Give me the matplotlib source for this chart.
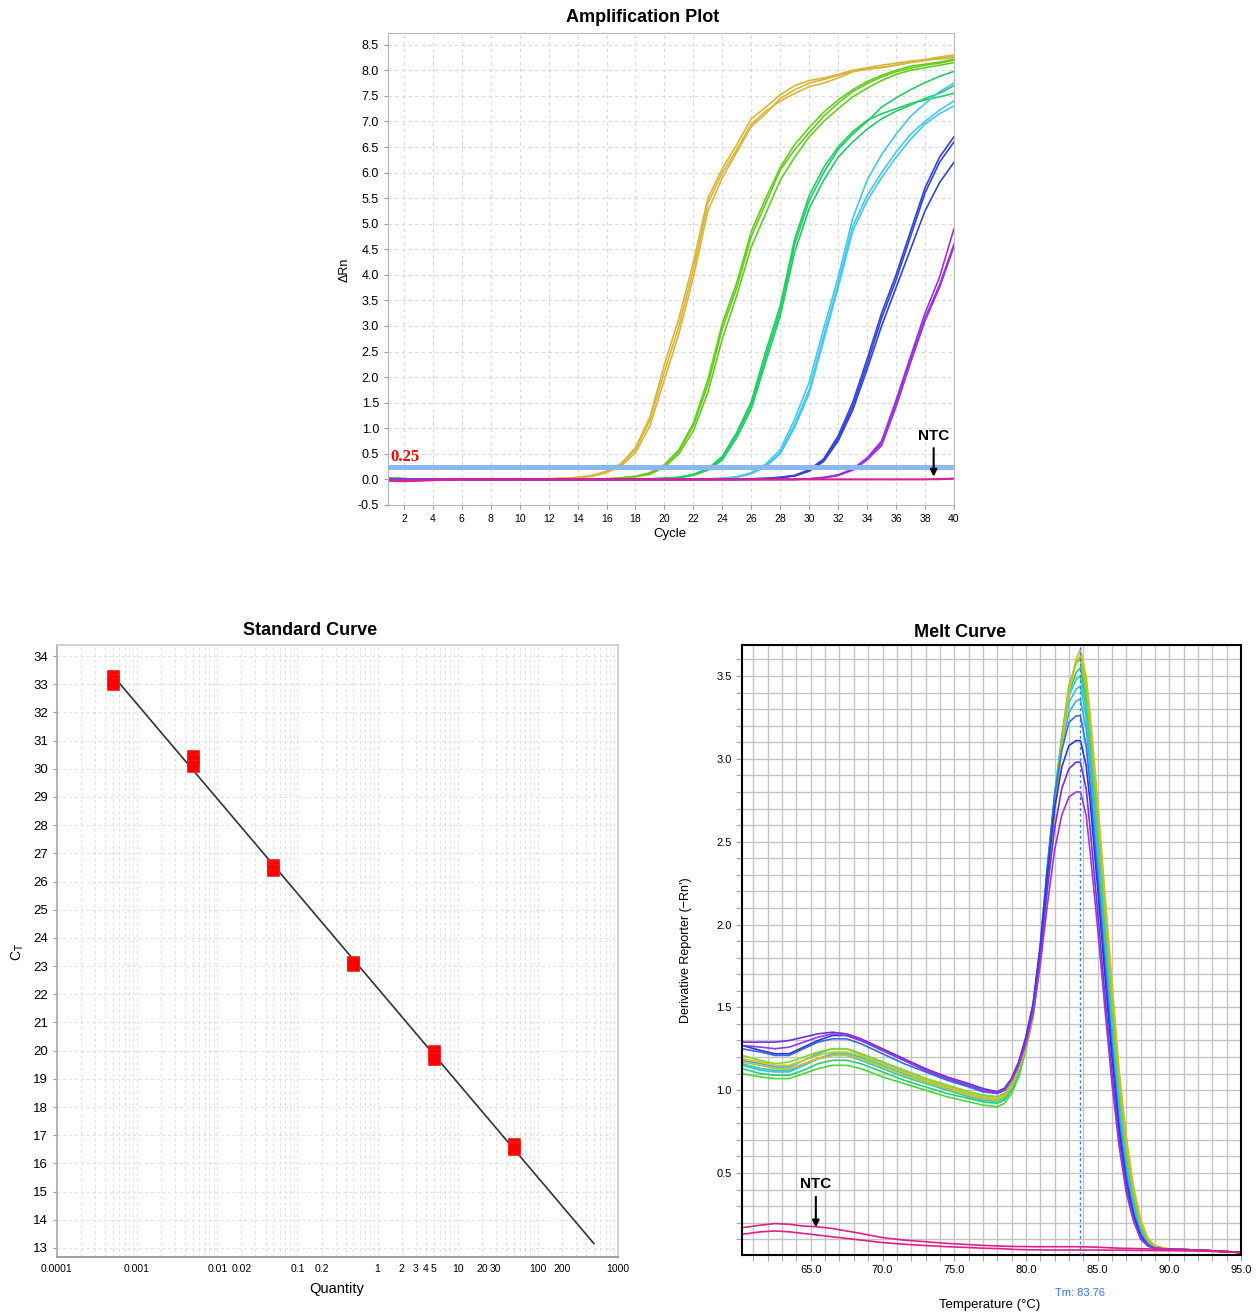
import numpy as np
import matplotlib.pyplot as plt
import matplotlib.transforms as mtransforms
from matplotlib.ticker import FixedLocator, FixedFormatter, MultipleLocator, LogLocator, NullFormatter

plt.rcParams['font.family'] = ['Liberation Sans', 'DejaVu Sans']

# ---------------- Amplification plot data (delta Rn per cycle) ----------------
cycles = list(range(1, 41))

amp_gold = [
    [0.02, 0.01, 0.00, 0.00, 0.00, 0.00, 0.00, 0.00, 0.00, 0.00,
     0.00, 0.01, 0.02, 0.04, 0.07, 0.15, 0.29, 0.58, 1.16, 2.10,
     3.00, 4.10, 5.40, 6.00, 6.45, 6.95, 7.20, 7.40, 7.55, 7.68,
     7.75, 7.85, 7.97, 8.03, 8.06, 8.10, 8.15, 8.19, 8.24, 8.28],
    [0.01, 0.01, 0.00, 0.00, 0.00, 0.00, 0.00, 0.00, 0.00, 0.00,
     0.00, 0.01, 0.02, 0.03, 0.06, 0.13, 0.26, 0.52, 1.05, 1.95,
     2.85, 3.95, 5.25, 5.90, 6.40, 6.90, 7.15, 7.45, 7.62, 7.75,
     7.82, 7.90, 7.98, 8.02, 8.05, 8.10, 8.16, 8.20, 8.22, 8.25],
    [0.02, 0.01, 0.01, 0.00, 0.00, 0.00, 0.00, 0.00, 0.00, 0.00,
     0.00, 0.01, 0.02, 0.04, 0.08, 0.16, 0.31, 0.62, 1.22, 2.25,
     3.15, 4.25, 5.50, 6.08, 6.55, 7.05, 7.28, 7.52, 7.70, 7.80,
     7.85, 7.92, 8.00, 8.05, 8.10, 8.14, 8.18, 8.21, 8.26, 8.30],
]
amp_ygreen = [
    [0.03, 0.01, 0.00, 0.00, 0.00, 0.00, 0.00, 0.00, 0.00, 0.00,
     0.00, 0.00, 0.00, 0.00, 0.00, 0.01, 0.03, 0.06, 0.12, 0.27,
     0.55, 1.05, 1.85, 2.95, 3.75, 4.75, 5.40, 6.05, 6.45, 6.78,
     7.10, 7.36, 7.58, 7.74, 7.87, 7.97, 8.04, 8.10, 8.14, 8.20],
    [0.02, 0.01, 0.00, 0.00, 0.00, 0.00, 0.00, 0.00, 0.00, 0.00,
     0.00, 0.00, 0.00, 0.00, 0.00, 0.01, 0.02, 0.05, 0.10, 0.24,
     0.50, 0.95, 1.70, 2.75, 3.60, 4.55, 5.20, 5.85, 6.30, 6.70,
     7.00, 7.25, 7.48, 7.65, 7.80, 7.92, 8.00, 8.05, 8.10, 8.15],
    [0.03, 0.02, 0.00, 0.00, 0.00, 0.00, 0.00, 0.00, 0.00, 0.00,
     0.00, 0.00, 0.00, 0.00, 0.00, 0.01, 0.03, 0.06, 0.13, 0.29,
     0.58, 1.10, 1.95, 3.05, 3.85, 4.85, 5.50, 6.10, 6.55, 6.88,
     7.18, 7.42, 7.62, 7.78, 7.90, 8.00, 8.08, 8.12, 8.16, 8.22],
]
amp_green = [
    [0.02, 0.01, 0.00, 0.00, 0.00, 0.00, 0.00, 0.00, 0.00, 0.00,
     0.00, 0.00, 0.00, 0.00, 0.00, 0.00, 0.00, 0.00, 0.01, 0.02,
     0.04, 0.09, 0.20, 0.42, 0.88, 1.45, 2.40, 3.30, 4.60, 5.45,
     6.00, 6.45, 6.75, 7.00, 7.28, 7.46, 7.62, 7.76, 7.88, 7.98],
    [0.03, 0.01, 0.00, 0.00, 0.00, 0.00, 0.00, 0.00, 0.00, 0.00,
     0.00, 0.00, 0.00, 0.00, 0.00, 0.00, 0.00, 0.00, 0.01, 0.02,
     0.03, 0.08, 0.18, 0.38, 0.82, 1.38, 2.30, 3.20, 4.45, 5.30,
     5.85, 6.30, 6.60, 6.85, 7.05, 7.20, 7.32, 7.45, 7.55, 7.70],
    [0.02, 0.00, 0.00, 0.00, 0.00, 0.00, 0.00, 0.00, 0.00, 0.00,
     0.00, 0.00, 0.00, 0.00, 0.00, 0.00, 0.00, 0.00, 0.01, 0.02,
     0.04, 0.10, 0.21, 0.45, 0.92, 1.52, 2.50, 3.40, 4.70, 5.55,
     6.10, 6.50, 6.80, 7.02, 7.15, 7.25, 7.35, 7.42, 7.48, 7.55],
]
amp_cyan = [
    [0.01, 0.00, 0.00, 0.00, 0.00, 0.00, 0.00, 0.00, 0.00, 0.00,
     0.00, 0.00, 0.00, 0.00, 0.00, 0.00, 0.00, 0.00, 0.00, 0.00,
     0.00, 0.00, 0.01, 0.02, 0.05, 0.13, 0.30, 0.58, 1.18, 1.90,
     2.95, 3.95, 5.10, 5.85, 6.35, 6.75, 7.10, 7.35, 7.58, 7.75],
    [0.01, 0.00, 0.00, 0.00, 0.00, 0.00, 0.00, 0.00, 0.00, 0.00,
     0.00, 0.00, 0.00, 0.00, 0.00, 0.00, 0.00, 0.00, 0.00, 0.00,
     0.00, 0.00, 0.01, 0.02, 0.05, 0.12, 0.27, 0.52, 1.08, 1.75,
     2.80, 3.82, 4.95, 5.55, 6.00, 6.40, 6.75, 7.00, 7.22, 7.40],
    [0.00, 0.00, 0.00, 0.00, 0.00, 0.00, 0.00, 0.00, 0.00, 0.00,
     0.00, 0.00, 0.00, 0.00, 0.00, 0.00, 0.00, 0.00, 0.00, 0.00,
     0.00, 0.00, 0.00, 0.01, 0.04, 0.11, 0.25, 0.50, 1.02, 1.68,
     2.72, 3.75, 4.85, 5.45, 5.90, 6.30, 6.65, 6.95, 7.15, 7.30],
]
amp_blue = [
    [0.00, 0.00, 0.00, 0.00, 0.00, 0.00, 0.00, 0.00, 0.00, 0.00,
     0.00, 0.00, 0.00, 0.00, 0.00, 0.00, 0.00, 0.00, 0.00, 0.00,
     0.00, 0.00, 0.00, 0.00, 0.00, 0.01, 0.02, 0.04, 0.08, 0.19,
     0.40, 0.85, 1.50, 2.35, 3.25, 4.00, 4.85, 5.70, 6.30, 6.70],
    [0.00, 0.00, 0.00, 0.00, 0.00, 0.00, 0.00, 0.00, 0.00, 0.00,
     0.00, 0.00, 0.00, 0.00, 0.00, 0.00, 0.00, 0.00, 0.00, 0.00,
     0.00, 0.00, 0.00, 0.00, 0.00, 0.01, 0.02, 0.04, 0.07, 0.17,
     0.37, 0.80, 1.42, 2.25, 3.15, 3.90, 4.75, 5.60, 6.20, 6.60],
    [0.00, 0.00, 0.00, 0.00, 0.00, 0.00, 0.00, 0.00, 0.00, 0.00,
     0.00, 0.00, 0.00, 0.00, 0.00, 0.00, 0.00, 0.00, 0.00, 0.00,
     0.00, 0.00, 0.00, 0.00, 0.00, 0.00, 0.01, 0.03, 0.07, 0.16,
     0.35, 0.75, 1.35, 2.15, 3.00, 3.75, 4.50, 5.25, 5.80, 6.20],
]
amp_purple = [
    [0.00, 0.00, 0.00, 0.00, 0.00, 0.00, 0.00, 0.00, 0.00, 0.00,
     0.00, 0.00, 0.00, 0.00, 0.00, 0.00, 0.00, 0.00, 0.00, 0.00,
     0.00, 0.00, 0.00, 0.00, 0.00, 0.00, 0.00, 0.00, 0.00, 0.01,
     0.04, 0.09, 0.20, 0.42, 0.75, 1.55, 2.40, 3.25, 3.95, 4.90],
    [0.00, 0.00, 0.00, 0.00, 0.00, 0.00, 0.00, 0.00, 0.00, 0.00,
     0.00, 0.00, 0.00, 0.00, 0.00, 0.00, 0.00, 0.00, 0.00, 0.00,
     0.00, 0.00, 0.00, 0.00, 0.00, 0.00, 0.00, 0.00, 0.00, 0.01,
     0.03, 0.08, 0.19, 0.40, 0.70, 1.50, 2.35, 3.15, 3.80, 4.60],
    [0.00, 0.00, 0.00, 0.00, 0.00, 0.00, 0.00, 0.00, 0.00, 0.00,
     0.00, 0.00, 0.00, 0.00, 0.00, 0.00, 0.00, 0.00, 0.00, 0.00,
     0.00, 0.00, 0.00, 0.00, 0.00, 0.00, 0.00, 0.00, 0.00, 0.01,
     0.03, 0.08, 0.18, 0.38, 0.66, 1.42, 2.28, 3.10, 3.75, 4.55],
]
amp_ntc = [
    [-0.03, -0.04, -0.03, -0.02, -0.01, 0.00, 0.00, 0.00, 0.00, 0.00,
     0.00, 0.00, 0.00, 0.00, 0.00, 0.00, 0.00, 0.00, 0.00, 0.00,
     0.00, 0.00, 0.00, 0.00, 0.00, 0.00, 0.00, 0.00, 0.00, 0.00,
     0.00, 0.00, 0.00, 0.00, 0.00, 0.00, 0.00, 0.00, 0.01, 0.02],
    [-0.02, -0.03, -0.02, -0.01, 0.00, 0.00, 0.00, 0.00, 0.00, 0.00,
     0.00, 0.00, 0.00, 0.00, 0.00, 0.00, 0.00, 0.00, 0.00, 0.00,
     0.00, 0.00, 0.00, 0.00, 0.00, 0.00, 0.00, 0.00, 0.00, 0.00,
     0.00, 0.00, 0.00, 0.00, 0.00, 0.00, 0.00, 0.00, 0.00, 0.01],
]
amp_groups = [amp_gold, amp_ygreen, amp_green, amp_cyan, amp_blue, amp_purple, amp_ntc]
amp_colors = ['#D9B53B', '#66CC22', '#22CC66', '#44C8EE', '#3344DD', '#9933DD', '#E0208A']
threshold = 0.25
ntc_cycle = 38.6

# ---------------- Standard curve data ----------------
std_qty = [0.0005, 0.005, 0.05, 0.5, 5, 50]
std_ct = [
    [33.30, 33.15, 33.00],
    [30.45, 30.30, 30.10],
    [26.60, 26.50, 26.40],
    [23.15, 23.10, 23.05],
    [19.98, 19.85, 19.72],
    [16.68, 16.58, 16.50],
]
fit_qty = [0.0005, 500]
std_xticks = [0.0001, 0.001, 0.01, 0.02, 0.1, 0.2, 1, 2, 3, 4, 5, 10, 20, 30, 100, 200, 1000]
std_xlabels = ['0.0001', '0.001', '0.01', '0.02', '0.1', '0.2', '1', '2', '3', '4', '5',
               '10', '20', '30', '100', '200', '1000']

# ---------------- Melt curve data ----------------
melt_temp = [60.2, 61.5, 62.5, 63.5, 64.5, 65.5, 66.5, 67.5, 68.5, 70.0,
             71.5, 73.0, 74.5, 76.0, 77.0, 78.0, 78.5, 79.0, 79.5, 80.0,
             80.5, 81.0, 81.5, 82.0, 82.5, 83.0, 83.5, 83.8, 84.2, 84.5,
             85.0, 85.5, 86.0, 86.5, 87.0, 87.5, 88.0, 88.5, 89.0, 90.0,
             92.0, 94.0, 95.0]
melt_yellow1 = [1.17, 1.15, 1.13, 1.13, 1.16, 1.19, 1.21, 1.21, 1.19, 1.14, 1.09, 1.05, 1.01, 0.97, 0.95, 0.94,
                0.96, 1.02, 1.12, 1.26, 1.44, 1.76, 2.22, 2.66, 3.06, 3.40, 3.60, 3.66,
                3.50, 3.25, 2.75, 2.20, 1.65, 1.12, 0.72, 0.42, 0.22, 0.11, 0.06, 0.04, 0.035, 0.025, 0.02]
melt_yellow2 = [1.19, 1.17, 1.15, 1.15, 1.18, 1.21, 1.23, 1.23, 1.21, 1.16, 1.11, 1.06, 1.02, 0.98, 0.96, 0.95,
                0.97, 1.03, 1.13, 1.28, 1.46, 1.80, 2.26, 2.70, 3.10, 3.42, 3.58, 3.62,
                3.46, 3.20, 2.70, 2.15, 1.60, 1.08, 0.68, 0.40, 0.21, 0.10, 0.06, 0.04, 0.035, 0.025, 0.02]
melt_ygreen1 = [1.21, 1.18, 1.16, 1.17, 1.20, 1.23, 1.25, 1.25, 1.22, 1.17, 1.12, 1.07, 1.03, 0.99, 0.97, 0.96,
                0.98, 1.04, 1.14, 1.29, 1.48, 1.82, 2.28, 2.72, 3.12, 3.44, 3.58, 3.61,
                3.42, 3.15, 2.64, 2.08, 1.54, 1.03, 0.64, 0.37, 0.19, 0.09, 0.055, 0.04, 0.035, 0.025, 0.02]
melt_ygreen2 = [1.10, 1.08, 1.07, 1.07, 1.10, 1.13, 1.15, 1.15, 1.13, 1.08, 1.04, 1.00, 0.96, 0.93, 0.91, 0.90,
                0.92, 0.98, 1.08, 1.24, 1.44, 1.80, 2.26, 2.72, 3.12, 3.44, 3.58, 3.60,
                3.40, 3.12, 2.60, 2.05, 1.50, 1.00, 0.62, 0.36, 0.18, 0.09, 0.055, 0.04, 0.035, 0.025, 0.02]
melt_green1 = [1.13, 1.10, 1.09, 1.09, 1.12, 1.16, 1.18, 1.18, 1.16, 1.11, 1.06, 1.02, 0.98, 0.95, 0.93, 0.92,
               0.94, 1.00, 1.10, 1.26, 1.46, 1.82, 2.30, 2.75, 3.12, 3.40, 3.52, 3.55,
               3.35, 3.08, 2.56, 2.00, 1.46, 0.97, 0.60, 0.34, 0.17, 0.09, 0.05, 0.04, 0.035, 0.025, 0.02]
melt_green2 = [1.16, 1.13, 1.12, 1.12, 1.15, 1.19, 1.21, 1.21, 1.18, 1.13, 1.08, 1.04, 1.00, 0.96, 0.94, 0.93,
               0.95, 1.01, 1.11, 1.27, 1.47, 1.84, 2.32, 2.78, 3.14, 3.38, 3.48, 3.50,
               3.30, 3.02, 2.50, 1.95, 1.42, 0.94, 0.58, 0.33, 0.16, 0.08, 0.05, 0.04, 0.035, 0.025, 0.02]
melt_cyan1 = [1.15, 1.12, 1.11, 1.11, 1.15, 1.19, 1.22, 1.22, 1.20, 1.15, 1.10, 1.05, 1.01, 0.97, 0.95, 0.94,
              0.96, 1.02, 1.12, 1.28, 1.48, 1.85, 2.33, 2.78, 3.12, 3.34, 3.42, 3.44,
              3.25, 2.98, 2.46, 1.92, 1.38, 0.90, 0.55, 0.31, 0.15, 0.08, 0.05, 0.04, 0.035, 0.025, 0.02]
melt_cyan2 = [1.18, 1.16, 1.14, 1.14, 1.18, 1.22, 1.25, 1.25, 1.22, 1.17, 1.12, 1.07, 1.03, 0.99, 0.97, 0.96,
              0.98, 1.04, 1.14, 1.30, 1.50, 1.86, 2.34, 2.76, 3.08, 3.28, 3.35, 3.36,
              3.18, 2.92, 2.40, 1.86, 1.33, 0.86, 0.52, 0.29, 0.14, 0.07, 0.05, 0.04, 0.035, 0.025, 0.02]
melt_blue1 = [1.25, 1.23, 1.21, 1.21, 1.25, 1.29, 1.31, 1.31, 1.28, 1.22, 1.16, 1.11, 1.06, 1.02, 0.99, 0.98,
              1.00, 1.06, 1.16, 1.32, 1.52, 1.88, 2.36, 2.78, 3.05, 3.22, 3.26, 3.26,
              3.08, 2.82, 2.30, 1.78, 1.26, 0.80, 0.48, 0.26, 0.13, 0.07, 0.045, 0.04, 0.035, 0.025, 0.02]
melt_blue2 = [1.27, 1.24, 1.22, 1.22, 1.26, 1.30, 1.33, 1.33, 1.30, 1.24, 1.18, 1.12, 1.07, 1.03, 1.00, 0.99,
              1.01, 1.07, 1.17, 1.32, 1.52, 1.86, 2.30, 2.70, 2.95, 3.08, 3.11, 3.11,
              2.96, 2.72, 2.22, 1.70, 1.20, 0.76, 0.45, 0.25, 0.12, 0.06, 0.045, 0.04, 0.035, 0.025, 0.02]
melt_purple1 = [1.29, 1.29, 1.29, 1.30, 1.32, 1.34, 1.35, 1.34, 1.31, 1.25, 1.19, 1.13, 1.08, 1.04, 1.01, 0.99,
                1.01, 1.07, 1.17, 1.31, 1.50, 1.82, 2.22, 2.58, 2.82, 2.94, 2.98, 2.98,
                2.82, 2.56, 2.08, 1.58, 1.10, 0.70, 0.41, 0.22, 0.11, 0.06, 0.045, 0.04, 0.035, 0.025, 0.02]
melt_purple2 = [1.27, 1.26, 1.25, 1.26, 1.29, 1.32, 1.34, 1.33, 1.30, 1.24, 1.18, 1.12, 1.07, 1.03, 1.00, 0.98,
                1.00, 1.06, 1.15, 1.28, 1.46, 1.76, 2.12, 2.45, 2.66, 2.77, 2.80, 2.80,
                2.66, 2.42, 1.98, 1.50, 1.04, 0.66, 0.38, 0.21, 0.10, 0.06, 0.045, 0.04, 0.035, 0.025, 0.02]
melt_ntc1 = [0.17, 0.185, 0.195, 0.19, 0.18, 0.175, 0.165, 0.15, 0.135, 0.11, 0.095, 0.085, 0.075, 0.068, 0.063, 0.06,
             0.058, 0.057, 0.056, 0.056, 0.055, 0.055, 0.055, 0.055, 0.055, 0.055, 0.055, 0.055,
             0.054, 0.053, 0.052, 0.05, 0.048, 0.046, 0.045, 0.044, 0.043, 0.042, 0.04, 0.038, 0.034, 0.026, 0.02]
melt_ntc2 = [0.13, 0.145, 0.15, 0.145, 0.135, 0.125, 0.115, 0.105, 0.095, 0.08, 0.07, 0.062, 0.055, 0.05, 0.046, 0.044,
             0.042, 0.04, 0.038, 0.037, 0.036, 0.036, 0.035, 0.035, 0.035, 0.035, 0.035, 0.035,
             0.035, 0.035, 0.035, 0.035, 0.034, 0.034, 0.034, 0.033, 0.033, 0.032, 0.032, 0.031, 0.029, 0.024, 0.02]
melt_curves = [melt_ygreen2, melt_green1, melt_green2, melt_cyan1, melt_cyan2, melt_yellow2,
               melt_ygreen1, melt_yellow1, melt_blue1, melt_blue2, melt_purple1, melt_purple2]
melt_colors = ['#4CD838', '#28D070', '#30D0A8', '#30C8D8', '#38B0E8', '#C4CC22',
               '#8CD424', '#D8B830', '#3070E0', '#2838D8', '#7030E0', '#9838E0']
tm_value = 83.76

fig = plt.figure(figsize=(12.58, 13.14), dpi=100)
narrow = ['Liberation Sans Narrow', 'Liberation Sans', 'DejaVu Sans']

# ================= Amplification plot =================
ax1 = fig.add_axes([0.3084, 0.6157, 0.4499, 0.3592])
for group, color in zip(amp_groups, amp_colors):
    for rep in group:
        ax1.plot(cycles, rep, color=color, lw=1.2)
ax1.axhline(threshold, color='#8CB8F2', lw=3.6, zorder=3)
ax1.text(1.1, threshold + 0.04, '0.25', color='red', fontsize=12, fontweight='bold',
         family=['Liberation Serif', 'DejaVu Serif'], va='bottom', ha='left')
ax1.annotate('NTC', xy=(ntc_cycle, 0.0), xytext=(ntc_cycle, 0.72),
             ha='center', va='bottom', fontsize=11, fontweight='bold',
             arrowprops=dict(arrowstyle='-|>', color='black', lw=1.5, mutation_scale=10))
ax1.set_xlim(0.9, 40)
ax1.set_ylim(-0.5, 8.73)
ax1.set_xticks(range(2, 41, 2))
ax1.set_yticks(np.arange(-0.5, 8.51, 0.5))
ax1.set_yticklabels([f'{v:.1f}' for v in np.arange(-0.5, 8.51, 0.5)])
ax1.tick_params(axis='y', labelsize=9, length=3, color='#999999')
ax1.tick_params(axis='x', labelsize=7.5, length=3, color='#999999')
ax1.grid(True, ls=(0, (3, 3)), color='#D8D8D8', lw=0.8)
for s in ax1.spines.values():
    s.set_color('#B8B8B8')
fig.text(0.511, 0.987, 'Amplification Plot', ha='center', va='center',
         fontsize=13, fontweight='bold', family=narrow)
fig.text(0.2742, 0.7945, '\u0394Rn', ha='center', va='center', rotation=90, fontsize=9)
fig.text(0.5326, 0.5936, 'Cycle', ha='center', va='center', fontsize=9.5)

# ================= Standard curve =================
ax2 = fig.add_axes([0.0453, 0.0434, 0.4459, 0.4657])
ax2.set_xscale('log')
logq = np.log10(np.repeat(std_qty, [len(r) for r in std_ct]))
cts = np.concatenate(std_ct)
slope, intercept = np.polyfit(logq, cts, 1)
ax2.plot(fit_qty, slope * np.log10(fit_qty) + intercept, color='#333333', lw=1.2, zorder=2)
for q, reps in zip(std_qty, std_ct):
    ax2.plot([q] * len(reps), reps, 's', color='#FF0000', markersize=8,
             markeredgecolor='#FF2020', markeredgewidth=0.5, zorder=3, ls='none')
ax2.set_xlim(1e-4, 1e3)
ax2.set_ylim(12.68, 34.39)
ax2.xaxis.set_major_locator(FixedLocator(std_xticks))
ax2.xaxis.set_major_formatter(FixedFormatter(std_xlabels))
ax2.xaxis.set_minor_locator(LogLocator(base=10, subs=np.arange(2, 10), numticks=20))
ax2.xaxis.set_minor_formatter(NullFormatter())
ax2.set_yticks(range(13, 35))
ax2.tick_params(axis='y', labelsize=9.5, length=3, color='#999999')
ax2.tick_params(axis='x', which='both', length=0, labelsize=7.5, pad=5)
for lab in ax2.get_xticklabels():
    lab.set_family(narrow)
ax2.grid(True, which='both', ls=(0, (3, 3)), color='#E0E0E0', lw=0.7)
ax2.set_axisbelow(True)
for s in ax2.spines.values():
    s.set_color('#C8C8C8')
    s.set_linewidth(1.2)
ax2.spines['bottom'].set_color('#909090')
ax2.spines['left'].set_color('#A8A8A8')
fig.text(0.2464, 0.5205, 'Standard Curve', ha='center', va='center',
         fontsize=13, fontweight='bold', family=narrow)
fig.text(0.0143, 0.2755, 'C$_\\mathrm{T}$', ha='center', va='center', rotation=90, fontsize=10)
fig.text(0.2679, 0.019, 'Quantity', ha='center', va='center', fontsize=10.5)

# ================= Melt curve =================
ax3 = fig.add_axes([0.5898, 0.0449, 0.3967, 0.4642])
for curve, color in zip(melt_curves, melt_colors):
    ax3.plot(melt_temp, curve, color=color, lw=1.2)
for curve in [melt_ntc1, melt_ntc2]:
    ax3.plot(melt_temp, curve, color='#E0208A', lw=1.2)
ax3.axvline(tm_value, color='#3377EE', ls=(0, (2, 2)), lw=1.0, zorder=4)
ax3.annotate('NTC', xy=(65.35, 0.155), xytext=(65.35, 0.39),
             ha='center', va='bottom', fontsize=11, fontweight='bold',
             arrowprops=dict(arrowstyle='-|>', color='black', lw=1.5, mutation_scale=10))
trans = mtransforms.blended_transform_factory(ax3.transData, ax3.transAxes)
ax3.text(tm_value, -0.062, f'Tm: {tm_value:.2f}', transform=trans, ha='center', va='center',
         fontsize=8, color='#3377EE', family=narrow)
ax3.set_xlim(60.2, 95)
ax3.set_ylim(0.005, 3.687)
ax3.set_xticks(np.arange(65, 96, 5))
ax3.set_xticklabels([f'{v:.1f}' for v in np.arange(65, 96, 5)], family=narrow)
ax3.xaxis.set_minor_locator(MultipleLocator(1))
ax3.set_yticks(np.arange(0.5, 3.51, 0.5))
ax3.set_yticklabels([f'{v:.1f}' for v in np.arange(0.5, 3.51, 0.5)], family=narrow)
ax3.yaxis.set_minor_locator(MultipleLocator(0.1))
ax3.tick_params(which='both', labelsize=8, length=4, color='#999999')
ax3.grid(True, which='both', color='#C4C4C4', lw=1.0)
ax3.set_axisbelow(True)
for s in ax3.spines.values():
    s.set_color('black')
    s.set_linewidth(1.5)
fig.text(0.7631, 0.519, 'Melt Curve', ha='center', va='center',
         fontsize=13, fontweight='bold', family=narrow)
fig.text(0.5453, 0.277, "Derivative Reporter (\u2212Rn')", ha='center', va='center',
         rotation=90, fontsize=9)
fig.text(0.787, 0.0065, 'Temperature (\u00b0C)', ha='center', va='center', fontsize=9.5)

fig.savefig('out.png', dpi=100, facecolor='white')
